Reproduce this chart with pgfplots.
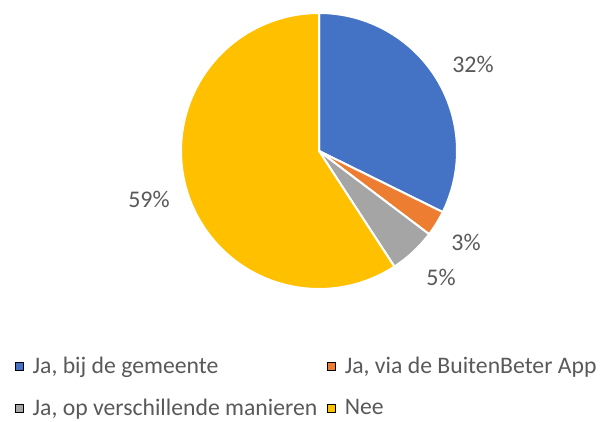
\documentclass[border=0pt]{standalone}
\usepackage{pgfplots}
\pgfplotsset{compat=1.18}
\usepackage{fontspec}
\setmainfont{Carlito}
\definecolor{pieblue}{HTML}{4472C4}
\definecolor{pieorange}{HTML}{ED7D31}
\definecolor{piegray}{HTML}{A5A5A5}
\definecolor{pieyellow}{HTML}{FFC000}
\definecolor{txt}{HTML}{595959}
\begin{document}
\begin{tikzpicture}
% values (percent)
\def\pA{32.3}\def\pB{3.0}\def\pC{5.5}\def\pD{59.2}
\def\cx{319}\def\cy{271}\def\R{138}
\pgfmathsetmacro\aA{3.6*\pA}
\pgfmathsetmacro\aB{\aA+3.6*\pB}
\pgfmathsetmacro\aC{\aB+3.6*\pC}
\pgfmathsetmacro\aD{\aC+3.6*\pD}
\begin{axis}[
  width=605bp, height=422bp, scale only axis,
  xmin=0, xmax=605, ymin=0, ymax=422,
  hide axis, clip=false,
  legend columns=2, legend cell align=left,
  legend image code/.code={\fill[#1] (0bp,-4bp) rectangle (8bp,4bp);},
  legend style={at={(axis cs:15,65)}, anchor=north west, draw=none, fill=none,
    inner sep=0pt, font=\fontsize{23.8}{28}\selectfont, text=txt,
    nodes={inner ysep=0pt},
    row sep=24bp,
    /tikz/every odd column/.append style={column sep=7bp},
    /tikz/every even column/.append style={column sep=8bp}},
]
\coordinate (BL) at (rel axis cs:0,0);
\coordinate (TR) at (rel axis cs:1,1);
\addplot[fill=pieblue, draw=white, line width=2bp, line join=round, domain=0:\aA, samples=100, variable=\t, forget plot]
  ({\cx+\R*sin(\t)},{\cy+\R*cos(\t)}) -- (axis cs:\cx,\cy) -- cycle;
\addplot[fill=pieorange, draw=white, line width=2bp, line join=round, domain=\aA:\aB, samples=20, variable=\t, forget plot]
  ({\cx+\R*sin(\t)},{\cy+\R*cos(\t)}) -- (axis cs:\cx,\cy) -- cycle;
\addplot[fill=piegray, draw=white, line width=2bp, line join=round, domain=\aB:\aC, samples=20, variable=\t, forget plot]
  ({\cx+\R*sin(\t)},{\cy+\R*cos(\t)}) -- (axis cs:\cx,\cy) -- cycle;
\addplot[fill=pieyellow, draw=white, line width=2bp, line join=round, domain=\aC:\aD, samples=150, variable=\t, forget plot]
  ({\cx+\R*sin(\t)},{\cy+\R*cos(\t)}) -- (axis cs:\cx,\cy) -- cycle;
\addlegendimage{fill=pieblue}\addlegendentry{Ja, bij de gemeente}
\addlegendimage{fill=pieorange}\addlegendentry{Ja, via de BuitenBeter App}
\addlegendimage{fill=piegray}\addlegendentry{Ja, op verschillende manieren}
\addlegendimage{fill=pieyellow}\addlegendentry{Nee}
\begin{scope}[font=\fontsize{24}{28}\selectfont, text=txt]
\node at (axis cs:473,358) {32\%};
\node at (axis cs:466,180) {3\%};
\node at (axis cs:441,145) {5\%};
\node at (axis cs:149,223) {59\%};
\end{scope}
\end{axis}
\pgfresetboundingbox
\path[use as bounding box] (BL) rectangle (TR);
\end{tikzpicture}
\end{document}
